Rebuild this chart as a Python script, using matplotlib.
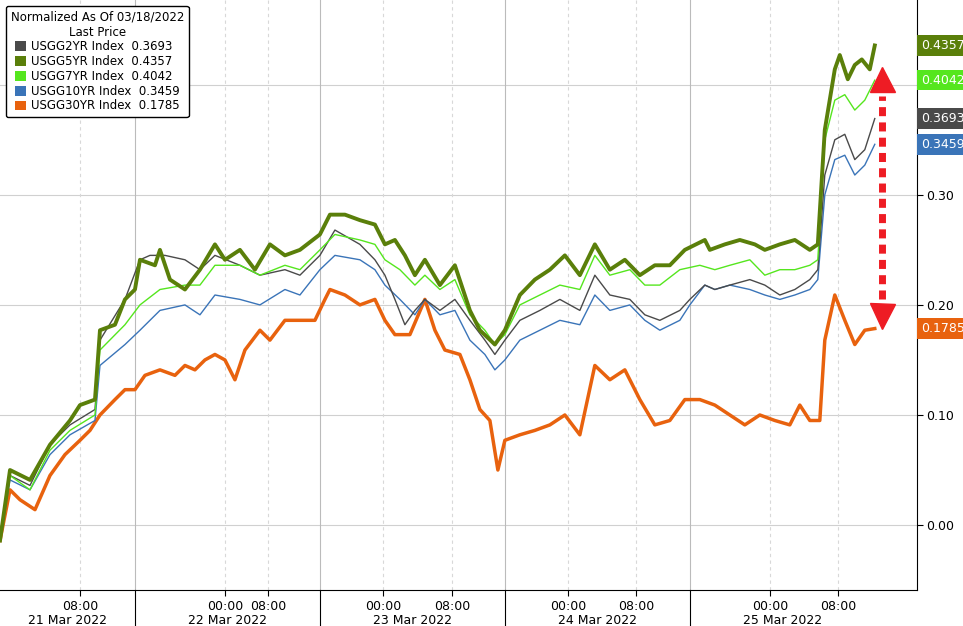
import matplotlib
matplotlib.use("Agg")
import matplotlib.pyplot as plt

# x = position on the compressed trading clock (21 Mar .. 25 Mar)
s5 = [(0,-0.014),(10,0.050),(30,0.041),(50,0.073),(70,0.095),(80,0.109),(95,0.114),(100,0.177),(115,0.182),(125,0.205),
      (135,0.214),(140,0.241),(155,0.236),(160,0.250),(170,0.223),(185,0.214),(200,0.232),(215,0.255),(225,0.241),(240,0.250),
      (255,0.232),(270,0.255),(285,0.245),(300,0.250),(320,0.264),(330,0.282),(345,0.282),(360,0.277),(375,0.273),(385,0.255),
      (395,0.259),(405,0.245),(415,0.227),(425,0.241),(440,0.218),(455,0.236),(470,0.195),(480,0.177),(495,0.164),(505,0.177),
      (520,0.209),(535,0.223),(550,0.232),(565,0.245),(580,0.227),(595,0.255),(610,0.232),(625,0.241),(640,0.227),(655,0.236),
      (670,0.236),(685,0.250),(705,0.259),(710,0.250),(725,0.255),(740,0.259),(755,0.255),(765,0.250),(780,0.255),(795,0.259),
      (810,0.250),(818,0.255),(825,0.359),(835,0.414),(840,0.427),(848,0.405),(855,0.418),(862,0.423),(870,0.414),(875,0.4357)]
s30 = [(0,-0.014),(10,0.032),(20,0.023),(35,0.014),(50,0.045),(65,0.064),(80,0.077),(90,0.086),(100,0.100),(115,0.114),
       (125,0.123),(135,0.123),(145,0.136),(160,0.141),(175,0.136),(185,0.145),(195,0.141),(205,0.150),(215,0.155),(225,0.150),
       (235,0.132),(245,0.159),(260,0.177),(270,0.168),(285,0.186),(300,0.186),(315,0.186),(325,0.205),(330,0.214),(345,0.209),
       (360,0.200),(375,0.205),(385,0.186),(395,0.173),(410,0.173),(425,0.205),(435,0.177),(445,0.159),(460,0.155),(470,0.132),
       (480,0.105),(490,0.095),(498,0.050),(505,0.077),(520,0.082),(535,0.086),(550,0.091),(565,0.100),(580,0.082),(595,0.145),
       (610,0.132),(625,0.141),(640,0.114),(655,0.091),(670,0.095),(685,0.114),(700,0.114),(715,0.109),(730,0.100),(745,0.091),
       (760,0.100),(775,0.095),(790,0.091),(800,0.109),(810,0.095),(820,0.095),(825,0.168),(835,0.209),(845,0.186),(855,0.164),
       (865,0.177),(875,0.1785)]
s2 = [(0,-0.014),(10,0.045),(30,0.036),(50,0.073),(70,0.091),(95,0.105),(100,0.168),(125,0.205),(140,0.241),(150,0.245),
      (165,0.245),(185,0.241),(200,0.232),(215,0.245),(240,0.236),(260,0.227),(285,0.232),(300,0.227),(320,0.245),(335,0.268),
      (360,0.255),(375,0.241),(385,0.227),(395,0.205),(405,0.182),(415,0.195),(425,0.205),(440,0.195),(455,0.205),(470,0.186),
      (485,0.168),(495,0.155),(505,0.168),(520,0.186),(540,0.195),(560,0.205),(580,0.195),(595,0.227),(610,0.209),(630,0.205),
      (645,0.191),(660,0.186),(680,0.195),(690,0.205),(705,0.218),(715,0.214),(730,0.218),(750,0.223),(765,0.218),(780,0.209),
      (795,0.214),(810,0.223),(818,0.232),(825,0.318),(835,0.350),(845,0.355),(855,0.332),(865,0.341),(875,0.3693)]
s7 = [(0,-0.014),(10,0.045),(30,0.032),(50,0.068),(70,0.086),(95,0.100),(100,0.159),(125,0.182),(140,0.200),(160,0.214),
      (185,0.218),(200,0.218),(215,0.236),(240,0.236),(260,0.227),(285,0.236),(300,0.232),(320,0.250),(335,0.264),(360,0.259),
      (375,0.255),(385,0.241),(400,0.232),(415,0.218),(425,0.227),(440,0.214),(455,0.223),(470,0.191),(485,0.177),(495,0.164),
      (505,0.173),(520,0.200),(540,0.209),(560,0.218),(580,0.214),(595,0.245),(610,0.227),(630,0.232),(645,0.218),(660,0.218),
      (680,0.232),(700,0.236),(715,0.232),(730,0.236),(750,0.241),(765,0.227),(780,0.232),(795,0.232),(810,0.236),(818,0.241),
      (825,0.350),(835,0.386),(845,0.391),(855,0.377),(865,0.386),(875,0.4042)]
s10 = [(0,-0.014),(10,0.041),(30,0.032),(50,0.064),(70,0.082),(95,0.095),(100,0.145),(125,0.164),(140,0.177),(160,0.195),
       (185,0.200),(200,0.191),(215,0.209),(240,0.205),(260,0.200),(285,0.214),(300,0.209),(320,0.232),(335,0.245),(360,0.241),
       (375,0.232),(385,0.218),(400,0.205),(415,0.191),(425,0.205),(440,0.191),(455,0.195),(470,0.168),(485,0.155),(495,0.141),
       (505,0.150),(520,0.168),(540,0.177),(560,0.186),(580,0.182),(595,0.209),(610,0.195),(630,0.200),(645,0.186),(660,0.177),
       (680,0.186),(690,0.200),(705,0.218),(715,0.214),(730,0.218),(750,0.214),(765,0.209),(780,0.205),(795,0.209),(810,0.214),
       (818,0.223),(825,0.300),(835,0.332),(845,0.336),(855,0.318),(865,0.327),(875,0.3459)]

names = ["USGG2YR Index", "USGG5YR Index", "USGG7YR Index", "USGG10YR Index", "USGG30YR Index"]
last = ["0.3693", "0.4357", "0.4042", "0.3459", "0.1785"]
colors = ["#4a4a4a", "#5a7f0a", "#55e61e", "#3a74b8", "#e8620e"]
widths = [1.0, 2.8, 1.0, 1.0, 2.5]
series = [s2, s5, s7, s10, s30]

tick_pos = [80, 225, 268, 383, 452, 568, 636, 770, 838]
tick_lab = ["08:00", "00:00", "08:00", "00:00", "08:00", "00:00", "08:00", "00:00", "08:00"]
day_sep = [135, 320, 505, 690]
day_lab_pos = [68, 228, 413, 598, 783]
day_lab = ["21 Mar 2022", "22 Mar 2022", "23 Mar 2022", "24 Mar 2022", "25 Mar 2022"]
arrow_range = (0.19, 0.405)

fig = plt.figure(figsize=(9.63, 6.26), dpi=100)
ax = fig.add_axes([0, 0.0575, 0.952, 0.9425])
ax.set_xlim(0, 917)
ax.set_ylim(-0.059, 0.477)
for y in [0.0, 0.1, 0.2, 0.3, 0.4]:
    ax.axhline(y, color="#d0d0d0", lw=0.8, zorder=0)
for x in day_sep:
    ax.axvline(x, color="#bbbbbb", lw=0.8, zorder=0)
for x in tick_pos:
    ax.axvline(x, color="#d8d8d8", lw=0.8, ls=(0, (3, 3)), zorder=0)

order = [4, 3, 0, 2, 1]
for i in order:
    xs = [p[0] for p in series[i]]
    vs = [p[1] for p in series[i]]
    ax.plot(xs, vs, color=colors[i], lw=widths[i], zorder=2 + order.index(i))

ax.yaxis.tick_right()
ax.set_yticks([0.0, 0.1, 0.2, 0.3])
ax.set_yticklabels(["0.00", "0.10", "0.20", "0.30"], fontsize=9)
ax.tick_params(axis="y", length=4, pad=3)
ax.set_xticks(tick_pos)
ax.set_xticklabels(tick_lab, fontsize=9)
ax.tick_params(axis="x", length=4)
for sp in ["top", "left"]:
    ax.spines[sp].set_visible(False)
for x in day_sep:
    ax.plot([x, x], [0, -0.065], transform=ax.get_xaxis_transform(), color="black", lw=0.8, clip_on=False)
for x, t in zip(day_lab_pos, day_lab):
    ax.text(x, -0.052, t, transform=ax.get_xaxis_transform(), ha="center", va="center", fontsize=9)

# right-hand value tags
for i in [1, 2, 0, 3, 4]:
    v = float(last[i])
    ax.text(921, v, last[i], ha="left", va="center", fontsize=9, color="white",
            bbox=dict(boxstyle="square,pad=0.3", fc=colors[i], ec="none"), clip_on=False)

# red dashed double arrow
lo, hi = arrow_range
ax.plot([882, 882], [lo + 0.015, hi - 0.015], color="#ee1c24", lw=5, ls=(0, (1.3, 0.9)), zorder=10)
ax.plot([882], [hi], marker="^", ms=18, color="#ee1c24", zorder=10)
ax.plot([882], [lo], marker="v", ms=18, color="#ee1c24", zorder=10)

# legend box
handles = [plt.Rectangle((0, 0), 1, 1, fc=c, ec="none") for c in colors]
labels = [f"{n}  {l}" for n, l in zip(names, last)]
leg = ax.legend(handles, labels, loc="upper left", bbox_to_anchor=(0.0, 1.0), fontsize=8.5,
                title="Normalized As Of 03/18/2022\nLast Price", title_fontsize=8.5,
                handlelength=0.9, handleheight=0.9, handletextpad=0.4, labelspacing=0.15,
                borderpad=0.4, frameon=True, fancybox=True, edgecolor="black", framealpha=1)
leg.get_title().set_multialignment("center")
leg.get_frame().set_linewidth(1.0)
fig.savefig("out.png", dpi=100)
